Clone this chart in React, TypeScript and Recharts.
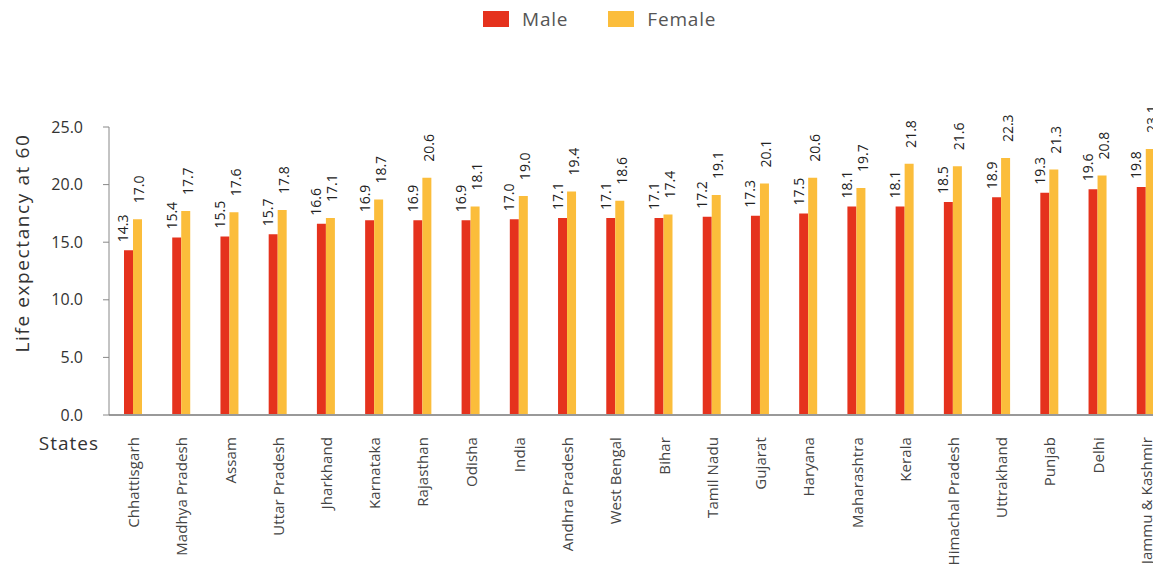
import React from 'react';
import { Bar, BarChart, LabelList, XAxis, YAxis } from 'recharts';

const states = [
  'Chhattisgarh', 'Madhya Pradesh', 'Assam', 'Uttar Pradesh', 'Jharkhand', 'Karnataka',
  'Rajasthan', 'Odisha', 'India', 'Andhra Pradesh', 'West Bengal', 'Bihar', 'Tamil Nadu',
  'Gujarat', 'Haryana', 'Maharashtra', 'Kerala', 'Himachal Pradesh', 'Uttrakhand',
  'Punjab', 'Delhi', 'Jammu & Kashmir'
];
const male = [14.3, 15.4, 15.5, 15.7, 16.6, 16.9, 16.9, 16.9, 17.0, 17.1, 17.1, 17.1, 17.2, 17.3, 17.5, 18.1, 18.1, 18.5, 18.9, 19.3, 19.6, 19.8];
const female = [17.0, 17.7, 17.6, 17.8, 17.1, 18.7, 20.6, 18.1, 19.0, 19.4, 18.6, 17.4, 19.1, 20.1, 20.6, 19.7, 21.8, 21.6, 22.3, 21.3, 20.8, 23.1];
const yTicks = [0, 5, 10, 15, 20, 25];

const series = [
  { key: 'male', name: 'Male', color: '#e5321d', dx: -5.5, gap: 8 },
  { key: 'female', name: 'Female', color: '#fbbd3b', dx: 1.5, gap: 16 }
];

const data = states.map((s, i) => ({ state: s, male: male[i], female: female[i] }));

const font = '"Open Sans", sans-serif';

const makeBarValue = (dx: number, gap: number) => (props: any) => {
  const { x, y, width, value } = props;
  const cx = x + width / 2 + dx;
  const cy = y - gap;
  return (
    <text
      x={cx}
      y={cy}
      transform={`rotate(-90 ${cx} ${cy})`}
      textAnchor="start"
      dominantBaseline="central"
      fontSize={14}
      fontFamily={font}
      fill="#222"
    >
      {Number(value).toFixed(1)}
    </text>
  );
};

const StateTick = (props: any) => {
  const { x, y, payload } = props;
  const ty = y + 14;
  return (
    <text
      x={x}
      y={ty}
      transform={`rotate(-90 ${x} ${ty})`}
      textAnchor="end"
      dominantBaseline="central"
      fontSize={15}
      letterSpacing={0.1}
      fontFamily={font}
      fill="#444"
    >
      {payload.value}
    </text>
  );
};

export default function App() {
  return (
    <div style={{ position: 'relative', margin: -8, width: 1161, height: 575, overflow: 'hidden', background: '#fff' }}>
      <div style={{ position: 'absolute', top: 6, left: 483, display: 'flex', alignItems: 'center', fontFamily: font, fontSize: 19, letterSpacing: 0.8, color: '#555' }}>
        {series.map((s, i) => (
          <div key={s.key} style={{ display: 'flex', alignItems: 'center', marginLeft: i ? 40 : 0 }}>
            <span style={{ display: 'inline-block', width: 26, height: 16, background: s.color, marginRight: 13 }} />
            <span>{s.name}</span>
          </div>
        ))}
      </div>
      <BarChart
        width={1170}
        height={575}
        data={data}
        margin={{ top: 127, right: 0, left: 0, bottom: 0 }}
        barGap={0}
        barSize={9}
      >
        <XAxis
          dataKey="state"
          height={160}
          interval={0}
          tick={<StateTick />}
          tickLine={false}
          axisLine={{ stroke: '#999', strokeWidth: 2 }}
          label={{
            content: ({ viewBox }: any) => (
              <text x={viewBox.x - 10} y={viewBox.y + 28} textAnchor="end" dominantBaseline="central" fontSize={19} letterSpacing={1} fontFamily={font} fill="#333">
                States
              </text>
            )
          }}
        />
        <YAxis
          width={109}
          domain={[0, 25]}
          ticks={yTicks}
          interval={0}
          tickSize={6}
          tickMargin={20}
          tickFormatter={(v: number) => v.toFixed(1)}
          tick={{ fontSize: 16, fontFamily: font, fill: '#333' }}
          tickLine={{ stroke: '#888' }}
          axisLine={{ stroke: '#888', strokeWidth: 1 }}
          label={{
            content: ({ viewBox }: any) => {
              const cx = 22;
              const cy = viewBox.y + viewBox.height / 2 - 28;
              return (
                <text x={cx} y={cy} transform={`rotate(-90 ${cx} ${cy})`} textAnchor="middle" dominantBaseline="central" fontSize={19} letterSpacing={1.6} fontFamily={font} fill="#333">
                  Life expectancy at 60
                </text>
              );
            }
          }}
        />
        {series.map(s => (
          <Bar key={s.key} dataKey={s.key} name={s.name} fill={s.color} isAnimationActive={false}>
            <LabelList dataKey={s.key} content={makeBarValue(s.dx, s.gap)} />
          </Bar>
        ))}
      </BarChart>
    </div>
  );
}
